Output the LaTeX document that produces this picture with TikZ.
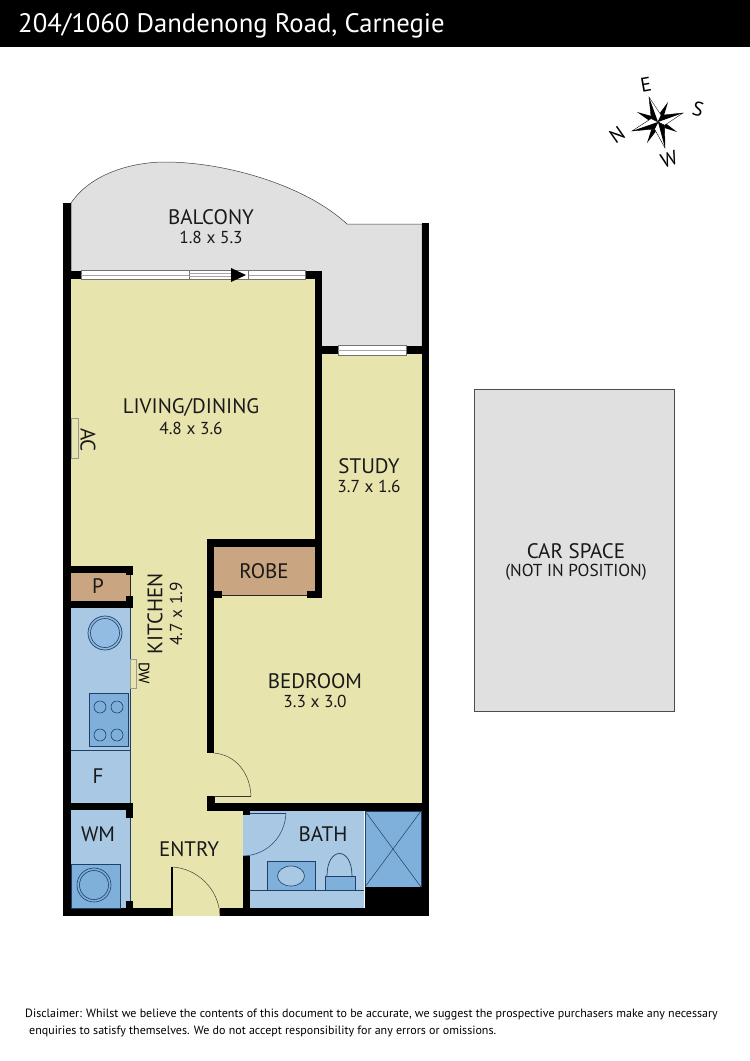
\documentclass[tikz,border=0pt]{standalone}
\usepackage{fontspec}
\setmainfont{PT Sans}
\usetikzlibrary{positioning,calc}
\definecolor{floorY}{HTML}{E8E4AE}
\definecolor{floorB}{HTML}{A9C8E4}
\definecolor{unitB}{HTML}{7FB0DC}
\definecolor{floorR}{HTML}{C9A582}
\definecolor{floorG}{HTML}{E0E0E1}
\definecolor{lineB}{HTML}{1F3F66}
\tikzset{wall/.style={fill=black, draw=none}}
\tikzset{unit/.style={draw=lineB, fill=unitB, line width=0.7pt}}
\tikzset{winpane/.style={draw=black!55, fill=white, line width=0.4pt}}
\tikzset{doorline/.style={draw=black!70!floorY, line width=0.5pt}}
\tikzset{roomname/.style={font=\fontsize{21}{21}\selectfont, text=black!90, inner sep=0pt, outer sep=0pt}}
\tikzset{roomdim/.style={font=\fontsize{17.3}{18}\selectfont, text=black!90, inner sep=0pt, outer sep=0pt}}
\tikzset{compassL/.style={font=\fontsize{20}{20}\selectfont, inner sep=0pt}}
\begin{document}
\begin{tikzpicture}[x=1pt, y=-1pt]
	\useasboundingbox (0,0) rectangle (750,1061);
	\fill[black] (0,0) rectangle (750,47);
	\node[anchor=west, text=white, font=\fontsize{26.7}{27}\selectfont, inner sep=0pt] (title) at (18,26)
		{204/1060 Dandenong Road, Carnegie};
	%
	% floors
	\fill[floorG, draw=black!75, line width=0.5pt] (71,203) .. controls (92,172) and (135,162) .. (165,162)
		.. controls (225,162) and (305,185) .. (347,224) -- (422,224) -- (422,350) -- (318,350) -- (318,275) -- (71,275) -- cycle;
	\foreach \xa/\ya/\xb/\yb in {71/279/318/566, 130/279/207/908, 207/279/318/540, 214/590/422/803, 322/354/422/803,
		207/750/215/797, 130/803/243/908, 172/908/220/916}
		\fill[floorY] (\xa,\ya) rectangle (\xb,\yb);
	\fill[floorR] (214,547) rectangle (315,595);
	\fill[floorR] (71,573) rectangle (130,601);
	\draw[draw=black!85, line width=0.5pt] (130,573) -- (130,601) (214,595) -- (315,595);
	\fill[floorB] (71,608) rectangle (130,803);
	\fill[floorB] (71,810) rectangle (130,908);
	\fill[floorB] (243,811) rectangle (364,908);
	\draw[draw=lineB, line width=0.6pt] (71,750) -- (130,750);
	\draw[draw=lineB, line width=0.4pt] (130,608) -- (130,803) (130,818) -- (130,901);
	%
	% shower
	\fill[unit] (365,811) rectangle (421,887);
	\draw[draw=lineB, line width=0.5pt] (365,811) -- (421,887) (421,811) -- (365,887);
	%
	% walls
	\foreach \xa/\ya/\xb/\yb in {63/203/71/916, 71/271/81/279, 305/271/322/279, 315/271/322/547, 322/346/338/354,
		406/346/422/354, 422/223/429/916, 207/539/322/547, 207/539/214/753, 214/591/222/598, 307/591/322/598, 315/547/322/598,
		71/566/133/573, 126/566/133/575, 71/601/133/608, 126/596/133/608, 71/803/133/810, 126/803/133/818,
		126/901/133/908, 63/908/172/916, 220/908/429/916, 207/796/215/811, 207/803/429/811, 243/811/250/815,
		243/856/250/908, 365/887/429/916}
		\fill[wall] (\xa,\ya) rectangle (\xb,\yb);
	%
	% windows and sliding door
	\foreach \xa/\xb in {81/189, 248/305}
		{\draw[winpane] (\xa,270.5) rectangle (\xb,279.5);
		\draw[draw=black!35, line width=0.4pt] (\xa,275) -- (\xb,275);}
	\draw[winpane] (189,270.5) rectangle (248,279.5);
	\draw[draw=black!35, line width=0.4pt] (189,273.5) -- (232,273.5) (189,276.5) -- (232,276.5);
	\fill[black] (231,268) -- (246,275) -- (231,282) -- cycle;
	\draw[winpane] (338,345) rectangle (406,355);
	\draw[draw=black!35, line width=0.4pt] (338,350) -- (406,350);
	%
	% doors
	\draw[doorline] (214,753) .. controls (236,755) and (250,773) .. (251,796);
	\draw[black!80, line width=1pt] (214,796) -- (251,796);
	\draw[doorline] (172,867) .. controls (196,868) and (219,888) .. (220,916);
	\draw[black, line width=1.2pt] (172,867) -- (172,916);
	\fill[floorB] (243,815) -- (286,815) .. controls (285,837) and (268,855) .. (243,856) -- cycle;
	\draw[doorline, draw=lineB] (286,813) .. controls (285,836) and (268,855) .. (243,856);
	\draw[draw=lineB, line width=1pt] (250,813) -- (286,813);
	%
	% kitchen units
	\draw[unit, fill=unitB!85!white] (105,633) circle (17);
	\draw[draw=lineB, line width=0.6pt] (105,633) circle (14.5);
	\draw[unit] (89,693) rectangle (128,746);
	\foreach \cx/\cy in {100/707, 117/707, 100/735, 117/735}
		\draw[draw=lineB, line width=0.6pt] (\cx,\cy) circle (6);
	\draw[draw=black!40, fill=floorY, line width=0.4pt] (130,659) rectangle (136,688);
	\draw[draw=black!40, fill=floorY, line width=0.4pt] (71,418) rectangle (78,458);
	%
	% laundry
	\draw[unit] (71,864) rectangle (120,908);
	\draw[draw=lineB, line width=0.6pt] (94,885) circle (17) (94,885) circle (14.5);
	%
	% bath units
	\draw[draw=lineB, line width=0.5pt] (250,890) -- (364,890);
	\draw[unit] (267,890) -- (267,861) -- (315,861) -- (315,890);
	\draw[draw=lineB, fill=floorB, line width=0.6pt] (291,876) ellipse (13.5 and 10);
	\draw[unit, fill=floorB] (327,876) .. controls (327,846) and (352,846) .. (352,876);
	\draw[unit] (325,890) -- (325,876) -- (355,876) -- (355,890);
	%
	% car space
	\fill[floorG, draw=black!70, line width=0.6pt] (474,389) rectangle (674,711);
	%
	% compass
	\coordinate (hub) at (658,122);
	\foreach \tx/\ty in {668/102, 677/132, 647/143, 637/112}
		\fill[black] (hub) -- ($(hub)!0.3!-25:(\tx,\ty)$) -- (\tx,\ty) -- ($(hub)!0.3!25:(\tx,\ty)$) -- cycle;
	\foreach \tx/\ty in {649/97, 683/113, 665/148, 632/131}
		{\draw[fill=white, draw=black, line width=0.4pt] (hub) -- ($(hub)!0.28!-45:(\tx,\ty)$) -- (\tx,\ty) -- ($(hub)!0.28!45:(\tx,\ty)$) -- cycle;
		\fill[black] (hub) -- (\tx,\ty) -- ($(hub)!0.28!45:(\tx,\ty)$) -- cycle;}
	\node[compassL, rotate=10] (compE) at (646,85) {E};
	\node[compassL, rotate=-15] (compS) at (698,109) {S};
	\node[compassL, rotate=18] (compW) at (669,159) {W};
	\node[compassL, rotate=35] (compN) at (617,135) {N};
	%
	% room labels
	\node[roomname] (balcony) at (211,217) {BALCONY};
	\node[roomdim, below=7pt of balcony] (balconyD) {1.8 x 5.3};
	\node[roomname] (living) at (191,407) {LIVING/DINING};
	\node[roomdim, below=6pt of living] (livingD) {4.8 x 3.6};
	\node[roomname] (study) at (369,466) {STUDY};
	\node[roomdim, below=7pt of study] (studyD) {3.7 x 1.6};
	\node[roomname] (robe) at (264,571) {ROBE};
	\node[roomname] (bedroom) at (315,681) {BEDROOM};
	\node[roomdim, below=7pt of bedroom] (bedroomD) {3.3 x 3.0};
	\node[roomname] (entry) at (189,849) {ENTRY};
	\node[roomname] (bath) at (323,834) {BATH};
	\node[roomname] (wm) at (98,834) {WM};
	\node[roomname] (pantry) at (98,586) {P};
	\node[roomname] (fridge) at (98,776) {F};
	\node[roomname, rotate=90] (kitchen) at (155,614) {KITCHEN};
	\node[roomdim, rotate=90] (kitchenD) at (176,614) {4.7 x 1.9};
	\node[roomname, rotate=-90] (ac) at (88,440) {AC};
	\node[rotate=-90, inner sep=0pt, font=\fontsize{15}{15}\selectfont] (dw) at (144,673) {DW};
	\node[roomname] (car) at (576,551) {CAR SPACE};
	\node[roomdim, below=6pt of car] (carD) {(NOT IN POSITION)};
	%
	\node[anchor=west, inner sep=0pt, font=\fontsize{12}{12}\selectfont] (disclaimA) at (25,1015)
		{Disclaimer: Whilst we believe the contents of this document to be accurate, we suggest the prospective purchasers make any necessary};
	\node[anchor=west, inner sep=0pt, font=\fontsize{12}{12}\selectfont] (disclaimB) at (29,1031)
		{enquiries to satisfy themselves. We do not accept responsibility for any errors or omissions.};
\end{tikzpicture}
\end{document}
